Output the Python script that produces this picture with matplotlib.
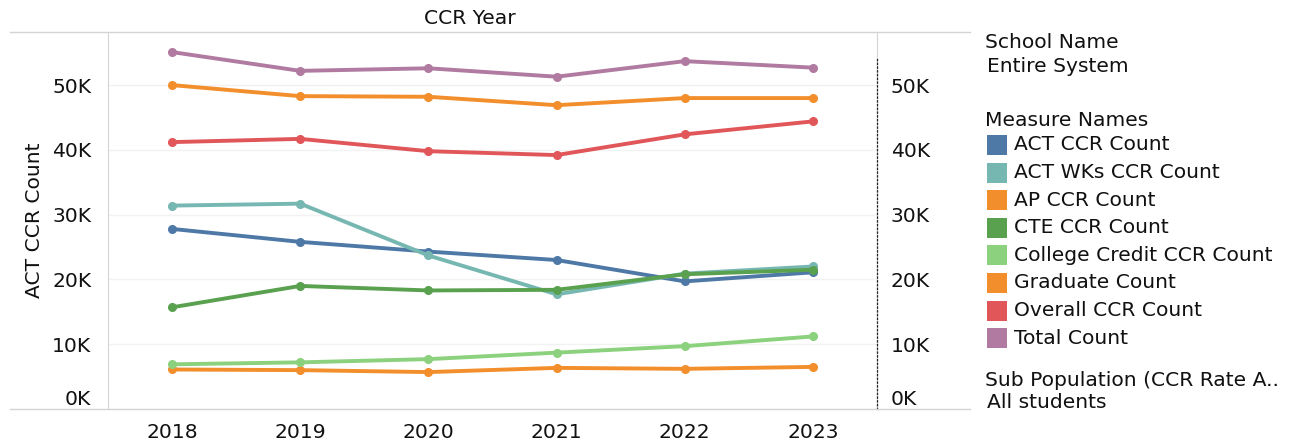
import matplotlib
matplotlib.use('Agg')
import matplotlib.pyplot as plt
import matplotlib.patches as mpatches
from matplotlib.lines import Line2D

# ── DATA ───────────────────────────────────────
years = [2018, 2019, 2020, 2021, 2022, 2023]
measures = ['ACT CCR Count', 'ACT WKs CCR Count', 'AP CCR Count', 'CTE CCR Count',
            'College Credit CCR Count', 'Graduate Count', 'Overall CCR Count', 'Total Count']
act_ccr       = [27800, 25800, 24300, 23000, 19700, 21100]
act_wks_ccr   = [31400, 31700, 23700, 17700, 20900, 22000]
ap_ccr        = [6100, 6000, 5700, 6350, 6200, 6500]
cte_ccr       = [15700, 19000, 18300, 18400, 20800, 21500]
college_ccr   = [6900, 7200, 7700, 8700, 9700, 11200]
graduate      = [50000, 48300, 48200, 46900, 48000, 48000]
overall_ccr   = [41200, 41700, 39800, 39200, 42400, 44400]
total         = [55100, 52200, 52600, 51300, 53700, 52700]
series = [act_ccr, act_wks_ccr, ap_ccr, cte_ccr, college_ccr, graduate, overall_ccr, total]
colors = ['#4e79a7', '#76b7b2', '#f28e2b', '#59a14f', '#8cd17d', '#f28e2b', '#e15759', '#b07aa1']
yticks = [0, 10000, 20000, 30000, 40000, 50000]
ytick_labels = ['0K', '10K', '20K', '30K', '40K', '50K']

W, H = 1293, 441
FS = 14.6
TXT = '#111111'

fig = plt.figure(figsize=(W / 100, H / 100), dpi=100)
ax = fig.add_axes([108 / W, (H - 409) / H, (877 - 108) / W, (409 - 32) / H])

for vals, col in zip(series, colors):
    ax.plot(years, vals, color=col, lw=2.8, marker='o', ms=5.5, solid_capstyle='round')

ax.set_xlim(2017.5, 2023.5)
ax.set_ylim(0, 58200)
ax.set_xticks(years)
ax.set_xticklabels([str(y) for y in years], fontsize=FS, color=TXT)
ax.set_yticks(yticks)
ax.set_yticklabels(ytick_labels, fontsize=FS, color=TXT)
ax.tick_params(length=0, pad=10)
ax.tick_params(axis='y', pad=12)
ax.yaxis.get_ticklabels()[0].set_va('bottom')
ax.grid(axis='y', color='#f2f2f2', lw=1)
ax.set_axisbelow(True)
for s in ['top', 'bottom']:
    ax.spines[s].set_visible(False)
ax.spines['left'].set_color('#d4d4d4')
ax.spines['right'].set_color('#d4d4d4')

# right axis (mirror)
ax2 = ax.twinx()
ax2.set_ylim(ax.get_ylim())
ax2.set_yticks(yticks)
ax2.set_yticklabels(ytick_labels, fontsize=FS, color=TXT)
ax2.tick_params(length=0, pad=10)
ax2.yaxis.get_ticklabels()[0].set_va('bottom')
for s in ['top', 'bottom', 'left']:
    ax2.spines[s].set_visible(False)
ax2.spines['right'].set_bounds(0, 54200)
ax2.spines['right'].set_linestyle((0, (1, 2)))
ax2.spines['right'].set_color('#222222')
ax2.spines['right'].set_linewidth(0.9)

# frame lines across the pane
for py in [32, 409]:
    fig.add_artist(Line2D([10 / W, 970 / W], [(H - py) / H] * 2, color='#d4d4d4', lw=1))

fig.text(470 / W, (H - 18) / H, 'CCR Year', fontsize=FS, color=TXT, ha='center', va='center')
fig.text(35 / W, (H - 220) / H, 'ACT CCR Count', fontsize=FS, color=TXT,
         rotation=90, ha='center', va='center')

# ── LEGEND / FILTERS ────────────────────────────
lx = 985 / W
fig.text(lx, (H - 42) / H, 'School Name', fontsize=FS, color=TXT, va='center')
fig.text(lx + 2 / W, (H - 67) / H, 'Entire System', fontsize=FS, color=TXT, va='center')
fig.text(lx, (H - 121) / H, 'Measure Names', fontsize=FS, color=TXT, va='center')
for i, (name, col) in enumerate(zip(measures, colors)):
    py = 145 + i * 27.6
    fig.add_artist(mpatches.Rectangle((987 / W, (H - py - 10) / H), 20 / W, 20 / H,
                                      facecolor=col, edgecolor='none', transform=fig.transFigure))
    fig.text(1014 / W, (H - py) / H, name, fontsize=FS, color=TXT, va='center')
fig.text(lx, (H - 380) / H, 'Sub Population (CCR Rate A..', fontsize=FS, color=TXT, va='center')
fig.text(lx + 2 / W, (H - 402) / H, 'All students', fontsize=FS, color=TXT, va='center')

fig.savefig('out.png', dpi=100)
